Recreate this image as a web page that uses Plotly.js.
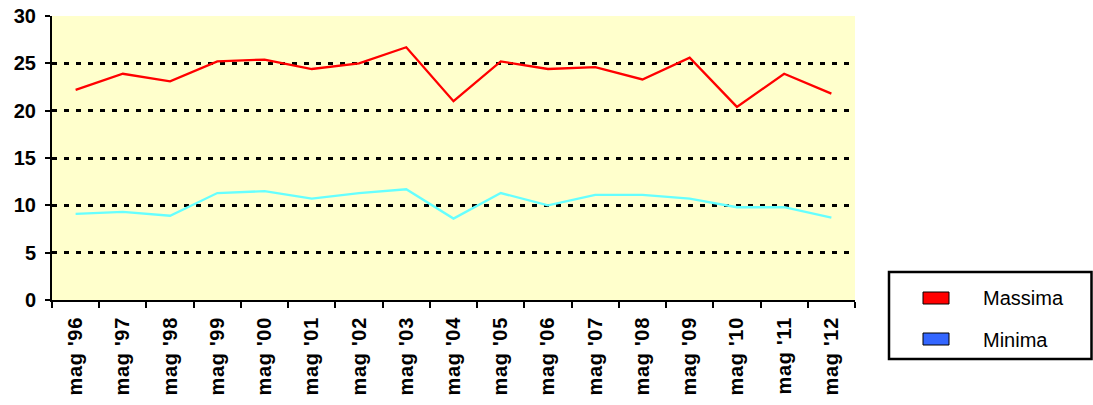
<!DOCTYPE html>
<html>
<head>
<meta charset="utf-8">
<script src="https://cdn.plot.ly/plotly-3.0.1.min.js"></script>
<style>
  html, body { margin: 0; padding: 0; background: #ffffff; }
  #chart { width: 1093px; height: 405px; }
  #chart .xtick text { letter-spacing: 0.7px; }
</style>
</head>
<body>
<div id="chart"></div>
<script>
// ---- data ----
var categories = ["mag '96", "mag '97", "mag '98", "mag '99", "mag '00", "mag '01", "mag '02", "mag '03",
                  "mag '04", "mag '05", "mag '06", "mag '07", "mag '08", "mag '09", "mag '10", "mag '11", "mag '12"];
var massima = [22.2, 23.9, 23.1, 25.2, 25.4, 24.4, 25.0, 26.7, 21.0, 25.2, 24.4, 24.6, 23.3, 25.6, 20.4, 23.9, 21.8];
var minima  = [9.1, 9.3, 8.9, 11.3, 11.5, 10.7, 11.3, 11.7, 8.6, 11.3, 10.0, 11.1, 11.1, 10.7, 9.8, 9.8, 8.7];
var seriesNames = ["Massima", "Minima"];
var yTicks = [0, 5, 10, 15, 20, 25, 30];

// ---- layout geometry (pixels) ----
var W = 1093, H = 405;
var M = { l: 52, r: 238, t: 16, b: 105 };
var pw = W - M.l - M.r, ph = H - M.t - M.b;
function px(x) { return (x - M.l) / pw; }
function py(y) { return (H - M.b - y) / ph; }

var traces = [
  { type: 'scatter', mode: 'lines', x: categories, y: massima, name: seriesNames[0],
    line: { color: '#FF0000', width: 2.3 }, showlegend: false, hoverinfo: 'x+y' },
  { type: 'scatter', mode: 'lines', x: categories, y: minima, name: seriesNames[1],
    line: { color: '#66FFFF', width: 2.3 }, showlegend: false, hoverinfo: 'x+y' }
];

var shapes = [
  // legend frame
  { type: 'rect', xref: 'paper', yref: 'paper', x0: px(889), x1: px(1091.5), y0: py(359), y1: py(272),
    line: { color: '#000000', width: 2.5 }, fillcolor: 'rgba(255,255,255,0)' },
  // swatches
  { type: 'rect', xref: 'paper', yref: 'paper', x0: px(923), x1: px(949), y0: py(304), y1: py(292),
    line: { color: '#000000', width: 1 }, fillcolor: '#FF0000' },
  { type: 'rect', xref: 'paper', yref: 'paper', x0: px(923), x1: px(949), y0: py(345), y1: py(333),
    line: { color: '#000000', width: 1 }, fillcolor: '#3366FF' }
];

var annotations = [
  { xref: 'paper', yref: 'paper', x: px(981), y: py(298), text: seriesNames[0], showarrow: false,
    xanchor: 'left', yanchor: 'middle', font: { family: 'Liberation Sans, Arial, sans-serif', size: 20, color: '#000000' } },
  { xref: 'paper', yref: 'paper', x: px(981), y: py(340), text: seriesNames[1], showarrow: false,
    xanchor: 'left', yanchor: 'middle', font: { family: 'Liberation Sans, Arial, sans-serif', size: 20, color: '#000000' } }
];

var layout = {
  width: W, height: H,
  margin: M,
  paper_bgcolor: '#FFFFFF',
  plot_bgcolor: '#FFFFCC',
  showlegend: false,
  font: { family: 'Liberation Sans, Arial, sans-serif', color: '#000000' },
  xaxis: {
    type: 'category',
    range: [-0.5, categories.length - 0.5],
    tickson: 'boundaries',
    ticks: 'outside', ticklen: 6, tickwidth: 2, tickcolor: '#000000',
    showline: true, linecolor: '#000000', linewidth: 2,
    showgrid: false, zeroline: false,
    tickangle: -90,
    ticklabelstandoff: 7,
    tickfont: { family: 'Liberation Sans, Arial, sans-serif', size: 20, weight: 'bold', color: '#000000' },
    fixedrange: true
  },
  yaxis: {
    range: [0, 30],
    tickmode: 'array', tickvals: yTicks, ticktext: yTicks.map(String),
    ticks: 'outside', ticklen: 5, tickwidth: 2, tickcolor: '#000000',
    showline: true, linecolor: '#000000', linewidth: 2,
    showgrid: true, gridcolor: '#000000', gridwidth: 3, griddash: '5px,7px',
    zeroline: false,
    ticklabelstandoff: 5,
    tickfont: { family: 'Liberation Sans, Arial, sans-serif', size: 20, weight: 'bold', color: '#000000' },
    fixedrange: true
  },
  shapes: shapes,
  annotations: annotations
};

Plotly.newPlot('chart', traces, layout, { displayModeBar: false, staticPlot: true });
</script>
</body>
</html>
